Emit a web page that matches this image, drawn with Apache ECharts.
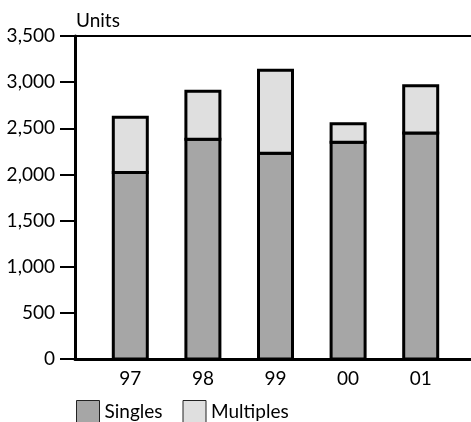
<!DOCTYPE html>
<html>
<head>
<meta charset="utf-8">
<script src="https://cdn.jsdelivr.net/npm/echarts@6/dist/echarts.min.js"></script>
<style>
html,body{margin:0;padding:0;background:#fff;}
#chart{width:471px;height:422px;}
</style>
</head>
<body>
<div id="chart"></div>
<script>
const categories = ['97', '98', '99', '00', '01'];
const singles = [2020, 2380, 2230, 2350, 2450];
const multiples = [600, 520, 900, 200, 510];
const yTicks = { min: 0, max: 3500, interval: 500 };
const axisTitle = 'Units';

const FONT = 'Lato';
const FS = 19;
const BAR_W = 34;

// stacked segments: [categoryIndex, base, top]
const singlesSeg = categories.map((c, i) => [i, 0, singles[i]]);
const multiplesSeg = categories.map((c, i) => [i, singles[i], singles[i] + multiples[i]]);

function renderSeg(params, api) {
  const xi = api.value(0);
  const p0 = api.coord([xi, api.value(1)]);
  const p1 = api.coord([xi, api.value(2)]);
  return {
    type: 'rect',
    shape: { x: p0[0] - BAR_W / 2, y: p1[1], width: BAR_W, height: p0[1] - p1[1] },
    style: { fill: api.visual('color'), stroke: '#000', lineWidth: 3 }
  };
}

const chart = echarts.init(document.getElementById('chart'), null, { renderer: 'canvas' });

chart.setOption({
  backgroundColor: '#ffffff',
  animation: false,
  textStyle: { fontFamily: FONT, color: '#000' },
  grid: [
    { left: 94, right: 14, top: 36, bottom: 63 },
    { left: 75, right: 0, top: 36, bottom: 63 }
  ],
  graphic: [
    { type: 'text', left: 76, top: 11, style: { text: axisTitle, font: FS + 'px ' + FONT, fill: '#000' } }
  ],
  legend: {
    left: 76, top: 400, padding: 0,
    itemWidth: 23, itemHeight: 22, itemGap: 20,
    icon: 'rect',
    textStyle: { fontFamily: FONT, fontSize: FS, color: '#000' },
    itemStyle: { borderColor: '#222', borderWidth: 1 },
    data: ['Singles', 'Multiples']
  },
  xAxis: [
    {
      type: 'category', gridIndex: 0, data: categories,
      axisLine: { show: false }, axisTick: { show: false },
      axisLabel: { margin: 10, fontSize: FS, fontFamily: FONT, color: '#000' }
    },
    {
      type: 'value', gridIndex: 1, position: 'bottom', min: 0, max: 1,
      axisLine: { show: true, lineStyle: { color: '#000', width: 3 } },
      axisTick: { show: false }, axisLabel: { show: false }, splitLine: { show: false }
    },
    {
      type: 'value', gridIndex: 1, position: 'top', min: 0, max: 1,
      axisLine: { show: true, lineStyle: { color: '#000', width: 2 } },
      axisTick: { show: false }, axisLabel: { show: false }, splitLine: { show: false }
    }
  ],
  yAxis: [
    {
      type: 'value', gridIndex: 0, min: yTicks.min, max: yTicks.max, interval: yTicks.interval,
      show: false, splitLine: { show: false }
    },
    {
      type: 'value', gridIndex: 1, min: yTicks.min, max: yTicks.max, interval: yTicks.interval,
      axisLine: { show: true, lineStyle: { color: '#000', width: 3 } },
      axisTick: { show: true, length: 15, lineStyle: { color: '#000', width: 2 } },
      axisLabel: {
        margin: 20, fontSize: FS, fontFamily: FONT, color: '#000',
        formatter: v => v.toLocaleString('en-US')
      },
      splitLine: { show: false }
    }
  ],
  series: [
    {
      name: 'Singles', type: 'custom', xAxisIndex: 0, yAxisIndex: 0,
      data: singlesSeg, encode: { x: 0, y: [1, 2] },
      itemStyle: { color: '#a6a6a6' },
      renderItem: renderSeg
    },
    {
      name: 'Multiples', type: 'custom', xAxisIndex: 0, yAxisIndex: 0,
      data: multiplesSeg, encode: { x: 0, y: [1, 2] },
      itemStyle: { color: '#dfdfdf' },
      renderItem: renderSeg
    }
  ]
});
</script>
</body>
</html>
